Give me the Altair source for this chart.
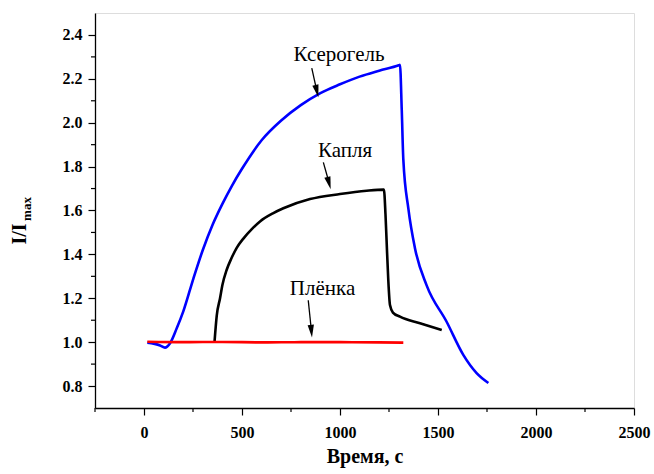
import altair as alt
import pandas as pd

# ---- data ----
xerogel_t = [17, 82, 107, 133, 167, 200, 252, 300, 350, 400, 450, 500, 600, 700, 800, 900, 1000, 1100, 1200,
             1300, 1306, 1315, 1323, 1349, 1383, 1442, 1544, 1629, 1697, 1757]
xerogel_v = [0.998, 0.985, 0.975, 0.995, 1.063, 1.139, 1.290, 1.420, 1.535, 1.630, 1.715, 1.790, 1.920, 2.010,
             2.080, 2.135, 2.175, 2.210, 2.237, 2.262, 2.264, 2.060, 1.834, 1.607, 1.426, 1.259, 1.093, 0.942,
             0.859, 0.814]

drop_t = [360, 371, 388, 400, 422, 445, 473, 507, 550, 592, 660, 711, 847, 1000, 1136, 1224, 1232, 1238, 1246,
          1255, 1270, 1306, 1408, 1519]
drop_v = [1.003, 1.120, 1.200, 1.260, 1.330, 1.380, 1.430, 1.472, 1.515, 1.550, 1.588, 1.610, 1.652, 1.675, 1.690,
          1.695, 1.584, 1.456, 1.290, 1.169, 1.135, 1.116, 1.086, 1.055]

film_t = [17, 200, 400, 600, 800, 1000, 1200, 1323]
film_v = [1.002, 1.000, 1.001, 0.999, 1.000, 1.000, 0.999, 0.998]

series_names = ["Капля", "Ксерогель", "Плёнка"]
series_colors = ["#000000", "#0000ff", "#ff0000"]

label_text = ["Ксерогель", "Капля", "Плёнка"]
label_x = [995, 1026, 911]
label_y = [2.279, 1.843, 1.217]

arrow_x0 = [856, 915, 838]
arrow_y0 = [2.249, 1.819, 1.191]
arrow_x1 = [878, 940, 852]
arrow_y1 = [2.160, 1.740, 1.070]
head_x = [882, 944, 854]
head_y = [2.144, 1.725, 1.050]
head_angle = [166.5, 165.0, 174.5]

x_major = [0, 500, 1000, 1500, 2000, 2500]
x_minor = [-250, 250, 750, 1250, 1750, 2250]
y_major = [0.8, 1.0, 1.2, 1.4, 1.6, 1.8, 2.0, 2.2, 2.4]
y_minor = [0.9, 1.1, 1.3, 1.5, 1.7, 1.9, 2.1, 2.3]

W, H = 539, 395
FONT = "Liberation Serif"

rows = []
for name, ts, vs in [("Капля", drop_t, drop_v), ("Ксерогель", xerogel_t, xerogel_v), ("Плёнка", film_t, film_v)]:
    for i, (t, v) in enumerate(zip(ts, vs)):
        rows.append({"series": name, "t": t, "v": v, "i": i})
df = pd.DataFrame(rows)

xscale = alt.Scale(domain=[-250, 2500], nice=False, zero=False)
yscale = alt.Scale(domain=[0.7, 2.5], nice=False, zero=False)

xaxis = alt.Axis(values=x_major, format="d", title="Время, с", grid=False, tickSize=7, tickWidth=1.2,
                 tickColor="black", domainColor="black", domainWidth=1.3, labelFont=FONT, labelFontSize=16,
                 labelFontWeight="bold", labelColor="black", labelPadding=9, titleFont=FONT, titleFontSize=20,
                 titleFontWeight="bold", titleColor="black", titlePadding=6, labelFlush=False)
yaxis = alt.Axis(values=y_major, format=".1f", title=None, grid=False, tickSize=7, tickWidth=1.2,
                 tickColor="black", domainColor="black", domainWidth=1.3, labelFont=FONT, labelFontSize=16,
                 labelFontWeight="bold", labelColor="black", labelPadding=6, labelFlush=False)

lines = alt.Chart(df).mark_line(clip=False, interpolate="monotone").encode(
    x=alt.X("t:Q", scale=xscale, axis=xaxis),
    y=alt.Y("v:Q", scale=yscale, axis=yaxis),
    color=alt.Color("series:N", scale=alt.Scale(domain=series_names, range=series_colors), legend=None),
    strokeWidth=alt.StrokeWidth("series:N", scale=alt.Scale(domain=series_names, range=[2.6, 2.6, 3.0]),
                                legend=None),
    order="i:Q",
)

xminor_df = pd.DataFrame({"t": x_minor})
xminor = alt.Chart(xminor_df).mark_rule(color="black", strokeWidth=1.2).encode(
    x=alt.X("t:Q", scale=xscale), y=alt.value(H), y2=alt.value(H + 4))

yminor_df = pd.DataFrame({"v": y_minor})
yminor = alt.Chart(yminor_df).mark_rule(color="black", strokeWidth=1.2).encode(
    y=alt.Y("v:Q", scale=yscale), x=alt.value(0), x2=alt.value(-4))

lab_df = pd.DataFrame({"text": label_text, "x": label_x, "y": label_y})
labels = alt.Chart(lab_df).mark_text(font=FONT, fontSize=21, color="black", align="center",
                                     baseline="alphabetic").encode(
    x=alt.X("x:Q", scale=xscale), y=alt.Y("y:Q", scale=yscale), text="text:N")

arr_df = pd.DataFrame({"x0": arrow_x0, "y0": arrow_y0, "x1": arrow_x1, "y1": arrow_y1,
                       "hx": head_x, "hy": head_y, "ang": head_angle})
shafts = alt.Chart(arr_df).mark_rule(color="black", strokeWidth=1.3).encode(
    x=alt.X("x0:Q", scale=xscale), y=alt.Y("y0:Q", scale=yscale), x2="x1:Q", y2="y1:Q")
heads = alt.Chart(arr_df).mark_point(shape="M0,-1L0.5,1L-0.5,1Z", filled=True, color="black",
                                     opacity=1, size=160, strokeWidth=0).encode(
    x=alt.X("hx:Q", scale=xscale), y=alt.Y("hy:Q", scale=yscale),
    angle=alt.Angle("ang:Q", scale=None))

ytitle_main = alt.Chart(pd.DataFrame({"s": ["I/I"]})).mark_text(
    font=FONT, fontSize=20, fontWeight="bold", color="black", angle=270, align="center", baseline="middle"
).encode(x=alt.value(-75), y=alt.value(221), text="s:N")
ytitle_sub = alt.Chart(pd.DataFrame({"s": ["max"]})).mark_text(
    font=FONT, fontSize=13, fontWeight="bold", color="black", angle=270, align="center", baseline="middle"
).encode(x=alt.value(-68), y=alt.value(196), text="s:N")

chart = alt.layer(lines, xminor, yminor, shafts, heads, labels, ytitle_main, ytitle_sub).properties(
    width=W, height=H,
    autosize=alt.AutoSizeParams(type="none"),
    padding={"left": 95, "top": 13, "right": 20, "bottom": 66},
).configure_view(stroke=None).configure(background="white")

chart.save("out.html", embed_options={"renderer": "svg", "actions": False})
